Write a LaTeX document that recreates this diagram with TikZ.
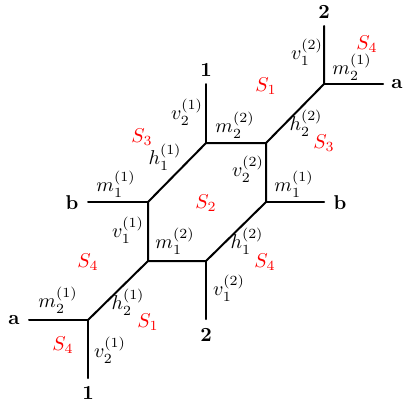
\documentclass[tikz,border=0pt]{standalone}
\begin{document}
\begin{tikzpicture}[x=0.5pt,y=-0.5pt,
  edge/.style={line width=1pt,line cap=round},
  lbl/.style={inner sep=0pt},
  face/.style={inner sep=0pt,text=red},
  ext/.style={inner sep=0pt,font=\bfseries}]
\useasboundingbox (0,0) rectangle (405,403);
% vertices
\coordinate (A) at (88,320);
\coordinate (B) at (148,261);
\coordinate (C) at (148,202);
\coordinate (D) at (206,143);
\coordinate (E) at (266,143);
\coordinate (F) at (324,84);
\coordinate (G) at (266,202);
\coordinate (H) at (206,261);
% free ends
\coordinate (Aa) at (29,320);
\coordinate (A1) at (88,378);
\coordinate (Cb) at (88,202);
\coordinate (D1) at (206,84);
\coordinate (F2) at (324,26);
\coordinate (Fa) at (383,84);
\coordinate (Gb) at (324,202);
\coordinate (H2) at (206,319);
% edges
\draw[edge] (Aa) -- (A) -- (A1);
\draw[edge] (A) -- (B) -- (C) -- (D) -- (E) -- (G) -- (H) -- (B);
\draw[edge] (C) -- (Cb);
\draw[edge] (D) -- (D1);
\draw[edge] (E) -- (F) -- (F2);
\draw[edge] (F) -- (Fa);
\draw[edge] (G) -- (Gb);
\draw[edge] (H) -- (H2);
% external labels
\node[ext] (la1) at (14,320) {a};
\node[ext] (l1b) at (88,393) {1};
\node[ext] (lb1) at (72,203) {b};
\node[ext] (l1t) at (206,70) {1};
\node[ext] (l2t) at (324,12) {2};
\node[ext] (la2) at (397,84) {a};
\node[ext] (lb2) at (340,203) {b};
\node[ext] (l2b) at (206,335) {2};
% edge labels
\node[lbl] (e1) at (58,300) {$m_2^{(1)}$};
\node[lbl] (e2) at (110,350) {$v_2^{(1)}$};
\node[lbl] (e3) at (128,302) {$h_2^{(1)}$};
\node[lbl] (e4) at (128,230) {$v_1^{(1)}$};
\node[lbl] (e5) at (116,184) {$m_1^{(1)}$};
\node[lbl] (e6) at (165,157) {$h_1^{(1)}$};
\node[lbl] (e7) at (175,241) {$m_1^{(2)}$};
\node[lbl] (e8) at (187,112) {$v_2^{(1)}$};
\node[lbl] (e9) at (235,125) {$m_2^{(2)}$};
\node[lbl] (e10) at (248,169) {$v_2^{(2)}$};
\node[lbl] (e11) at (306,123) {$h_2^{(2)}$};
\node[lbl] (e12) at (294,184) {$m_1^{(1)}$};
\node[lbl] (e13) at (247,241) {$h_1^{(2)}$};
\node[lbl] (e14) at (229,288) {$v_1^{(2)}$};
\node[lbl] (e15) at (307,52) {$v_1^{(2)}$};
\node[lbl] (e16) at (352,67) {$m_2^{(1)}$};
% face labels
\node[face] (s1) at (63,345) {$S_4$};
\node[face] (s2) at (148,322) {$S_1$};
\node[face] (s3) at (88,262) {$S_4$};
\node[face] (s4) at (142,137) {$S_3$};
\node[face] (s5) at (206,203) {$S_2$};
\node[face] (s6) at (266,86) {$S_1$};
\node[face] (s7) at (324,143) {$S_3$};
\node[face] (s8) at (265,262) {$S_4$};
\node[face] (s9) at (367,44) {$S_4$};
\end{tikzpicture}
\end{document}
